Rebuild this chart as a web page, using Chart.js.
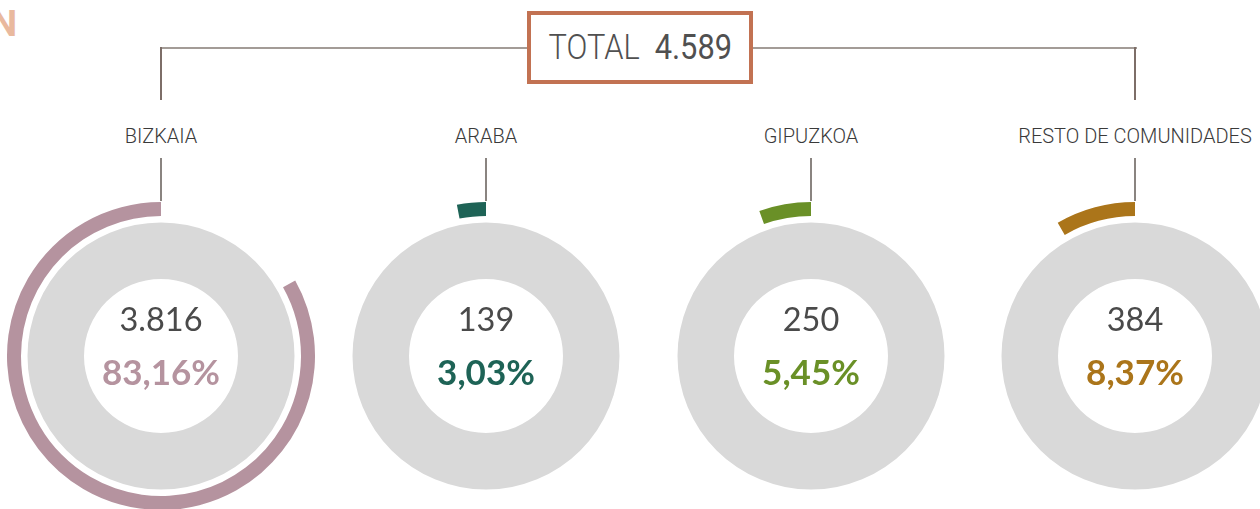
<!DOCTYPE html>
<html>
<head>
<meta charset="utf-8">
<script src="https://cdn.jsdelivr.net/npm/chart.js@4"></script>
<style>
  html, body { margin:0; padding:0; background:#fff; }
  body { width:1260px; height:509px; position:relative; overflow:hidden; font-family: Roboto, "Liberation Sans", sans-serif; }
  .abs { position:absolute; }
  .hline { position:absolute; height:2px; background:#a39c97; }
  .vline { position:absolute; width:2px; background:#7d6e68; }
  .label { position:absolute; top:124px; width:300px; margin-left:-150px; text-align:center; font-size:20px; font-weight:300; color:#3a3a3a; white-space:nowrap; }
  .num { position:absolute; width:200px; margin-left:-100px; text-align:center; font-family: Lato, sans-serif; font-size:32.5px; color:#4a4a4a; line-height:32px; }
  .pct { position:absolute; width:200px; margin-left:-100px; text-align:center; font-family: Lato, sans-serif; font-weight:700; font-size:35px; line-height:34px; }
  canvas { position:absolute; }
</style>
</head>
<body>
<div class="abs" style="left:-9px; top:2px; font-size:37px; font-weight:700; color:#e9b99e;">N</div>

<div class="hline" style="left:160px; top:47px; width:977px;"></div>
<div class="vline" style="left:160px; top:47px; height:53px;"></div>
<div class="vline" style="left:1134px; top:47px; height:53px;"></div>

<div class="abs" style="left:527px; top:11px; width:218px; height:65px; border:4px solid #c27252; background:#fff; box-sizing:content-box; display:flex; align-items:center; justify-content:center; color:#505050; font-size:35px; font-weight:300; white-space:nowrap;">
  <span id="totalTxt" style="display:inline-block; transform:scaleX(0.88);"></span>
</div>

<div id="root"></div>

<script>
const categories = ["BIZKAIA", "ARABA", "GIPUZKOA", "RESTO DE COMUNIDADES"];
const counts = [3816, 139, 250, 384];
const percentLabels = ["83,16%", "3,03%", "5,45%", "8,37%"];
const totalLabel = "4.589";
const total = 4589;
const colors = ["#b5939f", "#1e6356", "#6a9027", "#ab751a"];
const centersX = [161, 486, 811, 1135];
const centerY = 356;

document.getElementById('totalTxt').innerHTML = 'TOTAL&nbsp;&nbsp;<span style="font-weight:400">' + totalLabel + '</span>';

const root = document.getElementById('root');
const R = 154;

categories.forEach((cat, i) => {
  const cx = centersX[i];
  const lab = document.createElement('div');
  lab.className = 'label';
  lab.style.left = cx + 'px';
  lab.textContent = cat;
  root.appendChild(lab);

  const vl = document.createElement('div');
  vl.className = 'vline';
  vl.style.left = (cx - 1) + 'px';
  vl.style.top = '158px';
  vl.style.height = '43px';
  vl.style.background = '#8a8480';
  root.appendChild(vl);

  const cv = document.createElement('canvas');
  cv.width = 2 * R; cv.height = 2 * R;
  cv.style.left = (cx - R) + 'px';
  cv.style.top = (centerY - R) + 'px';
  cv.style.width = 2 * R + 'px';
  cv.style.height = 2 * R + 'px';
  root.appendChild(cv);

  new Chart(cv, {
    type: 'doughnut',
    data: {
      labels: ['resto', cat],
      datasets: [
        { data: [total - counts[i], counts[i]], backgroundColor: ['rgba(0,0,0,0)', colors[i]], borderWidth: 0, weight: 14 },
        { data: [total], backgroundColor: ['rgba(0,0,0,0)'], borderWidth: 0, weight: 6.5 },
        { data: [total], backgroundColor: ['#d9d9d9'], borderWidth: 0, weight: 56.5 }
      ]
    },
    options: {
      responsive: false,
      animation: false,
      cutout: '50%',
      radius: '100%',
      rotation: 0,
      layout: { padding: 0 },
      plugins: { legend: { display: false }, tooltip: { enabled: false } },
      events: []
    }
  });

  const n = document.createElement('div');
  n.className = 'num';
  n.style.left = cx + 'px';
  n.style.top = (centerY - 37 - 16) + 'px';
  n.textContent = counts[i].toLocaleString('de-DE');
  root.appendChild(n);

  const p = document.createElement('div');
  p.className = 'pct';
  p.style.left = cx + 'px';
  p.style.top = (centerY + 15 - 17) + 'px';
  p.style.color = colors[i];
  p.textContent = percentLabels[i];
  root.appendChild(p);
});
</script>
</body>
</html>
